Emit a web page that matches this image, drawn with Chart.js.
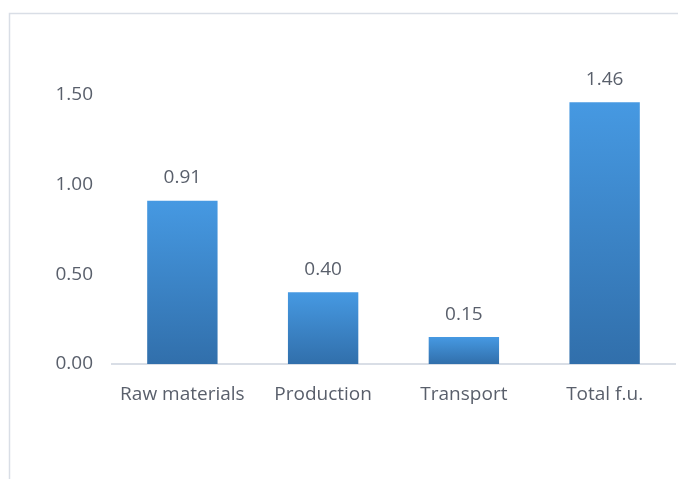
<!DOCTYPE html>
<html>
<head>
<meta charset="utf-8">
<script src="https://cdn.jsdelivr.net/npm/chart.js@4"></script>
<style>
  html, body { margin: 0; padding: 0; background: #fff; }
  #wrap { position: relative; width: 678px; height: 479px; }
</style>
</head>
<body>
<div id="wrap"><canvas id="chart" width="678" height="479"></canvas></div>
<script>
// Data
const categories = ["Raw materials", "Production", "Transport", "Total f.u."];
const values = [0.91, 0.40, 0.15, 1.46];
const yTicks = [0, 0.5, 1.0, 1.5];

const textColor = "#595f6b";
const fontFamily = "'Open Sans'";

// Frame lines (cropped chart border)
const framePlugin = {
  id: "frame",
  beforeDraw(chart) {
    const c = chart.ctx;
    c.save();
    c.strokeStyle = "#d9dee6";
    c.lineWidth = 1.5;
    c.beginPath();
    c.moveTo(9.5, 479);
    c.lineTo(9.5, 13.5);
    c.lineTo(678, 13.5);
    c.stroke();
    c.restore();
  }
};

// Value labels above bars
const labelPlugin = {
  id: "valueLabels",
  afterDatasetsDraw(chart) {
    const c = chart.ctx;
    const meta = chart.getDatasetMeta(0);
    c.save();
    c.font = "19px " + fontFamily;
    c.fillStyle = textColor;
    c.textAlign = "center";
    c.textBaseline = "middle";
    meta.data.forEach((bar, i) => {
      c.fillText(values[i].toFixed(2), bar.x, bar.y - 23);
    });
    c.restore();
  }
};

function barGradient(ctx) {
  const chart = ctx.chart;
  if (!chart.chartArea || ctx.raw === undefined) return "#3c86cf";
  const y = chart.scales.y;
  const top = y.getPixelForValue(ctx.raw);
  const bottom = y.getPixelForValue(0);
  const g = chart.ctx.createLinearGradient(0, top, 0, bottom);
  g.addColorStop(0, "#4699e2");
  g.addColorStop(1, "#316fab");
  return g;
}

new Chart(document.getElementById("chart"), {
  type: "bar",
  data: {
    labels: categories,
    datasets: [{
      data: values,
      backgroundColor: barGradient,
      borderWidth: 0,
      categoryPercentage: 1,
      barPercentage: 0.5
    }]
  },
  options: {
    responsive: false,
    animation: false,
    layout: { padding: { top: 95, right: 3, left: 0, bottom: 0 } },
    plugins: {
      legend: { display: false },
      tooltip: { enabled: false }
    },
    scales: {
      x: {
        grid: { display: false },
        border: { display: true, color: "#d9dee6", width: 2 },
        ticks: {
          color: textColor,
          font: { family: fontFamily, size: 19 },
          padding: 11
        },
        afterFit(scale) { scale.height = 115; }
      },
      y: {
        min: 0,
        max: 1.5,
        grid: { display: false },
        border: { display: false },
        afterBuildTicks(scale) { scale.ticks = yTicks.map(v => ({ value: v })); },
        ticks: {
          color: textColor,
          font: { family: fontFamily, size: 19 },
          padding: 11,
          callback: v => Number(v).toFixed(2)
        },
        afterFit(scale) { scale.width = 112; }
      }
    }
  },
  plugins: [framePlugin, labelPlugin]
});
</script>
</body>
</html>
